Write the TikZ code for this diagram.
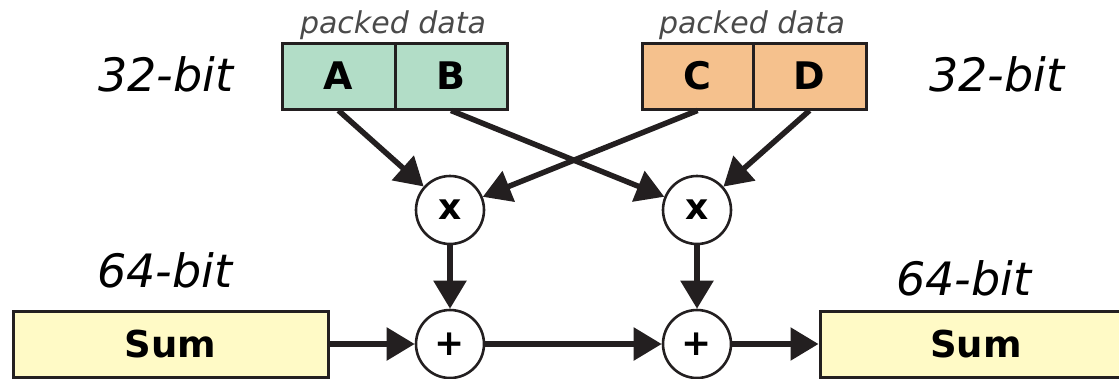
\documentclass[tikz,border=0pt]{standalone}
\usepackage{fontspec}
\setmainfont{DejaVu Sans}
\usetikzlibrary{arrows.meta}
\definecolor{cgreen}{HTML}{B2DDC7}
\definecolor{corange}{HTML}{F5C18D}
\definecolor{cyellow}{HTML}{FFFAC6}
\definecolor{cline}{HTML}{231F20}
\definecolor{cgray}{HTML}{4A4A4A}
\begin{document}
\begin{tikzpicture}[x=1pt,y=-1pt,
 cell/.style={draw=cline, line width=3pt, minimum height=66pt, inner sep=0pt, font=\fontsize{38}{40}\selectfont\bfseries},
 op/.style={circle, draw=cline, line width=2.6pt, fill=white, minimum size=68pt, inner sep=0pt, font=\fontsize{36}{40}\selectfont\bfseries},
 sumbox/.style={draw=cline, line width=3pt, fill=cyellow, minimum height=66pt, inner sep=0pt, font=\fontsize{37}{40}\selectfont\bfseries},
 bits/.style={anchor=base, inner sep=0pt, font=\fontsize{46}{50}\selectfont\itshape},
 packed/.style={anchor=base, inner sep=0pt, text=cgray, font=\fontsize{30}{36}\selectfont\itshape},
 flow/.style={draw=cline, line width=5.5pt, -{Triangle[length=28pt,width=32pt]}}]
\useasboundingbox (0,0) rectangle (1119,378);
\clip (0,0) rectangle (1119,378);

% packed data blocks
\node[cell, fill=cgreen, minimum width=113pt] (A) at (338.5,76) {A};
\node[cell, fill=cgreen, minimum width=112pt] (B) at (451,76) {B};
\node[cell, fill=corange, minimum width=111pt] (C) at (697.5,76) {C};
\node[cell, fill=corange, minimum width=113pt] (D) at (809.5,76) {D};

\node[packed] (pk1) at (393,33) {packed data};
\node[packed] (pk2) at (752,33) {packed data};

% width labels
\node[bits] (b32l) at (166,91) {32-bit};
\node[bits] (b32r) at (997,91) {32-bit};
\node[bits] (b64l) at (165,287) {64-bit};
\node[bits] (b64r) at (964,295) {64-bit};

% operators
\node[op] (m1) at (450,210) {x};
\node[op] (m2) at (697,210) {x};
\node[op] (p1) at (450,344) {+};
\node[op] (p2) at (697,344) {+};

% sum registers
\node[sumbox, minimum width=315pt] (S1) at (170.5,344) {Sum};
\node[sumbox, minimum width=312pt] (S2) at (976,344) {Sum};

% connectors
\draw[flow] (A.south) -- (m1);
\draw[flow] (B.south) -- (m2);
\draw[flow] (C.south) -- (m1);
\draw[flow] (D.south) -- (m2);
\draw[flow] (m1) -- (p1);
\draw[flow] (m2) -- (p2);
\draw[flow] (S1) -- (p1);
\draw[flow] (p1) -- (p2);
\draw[flow] (p2) -- (S2);
\end{tikzpicture}
\end{document}
